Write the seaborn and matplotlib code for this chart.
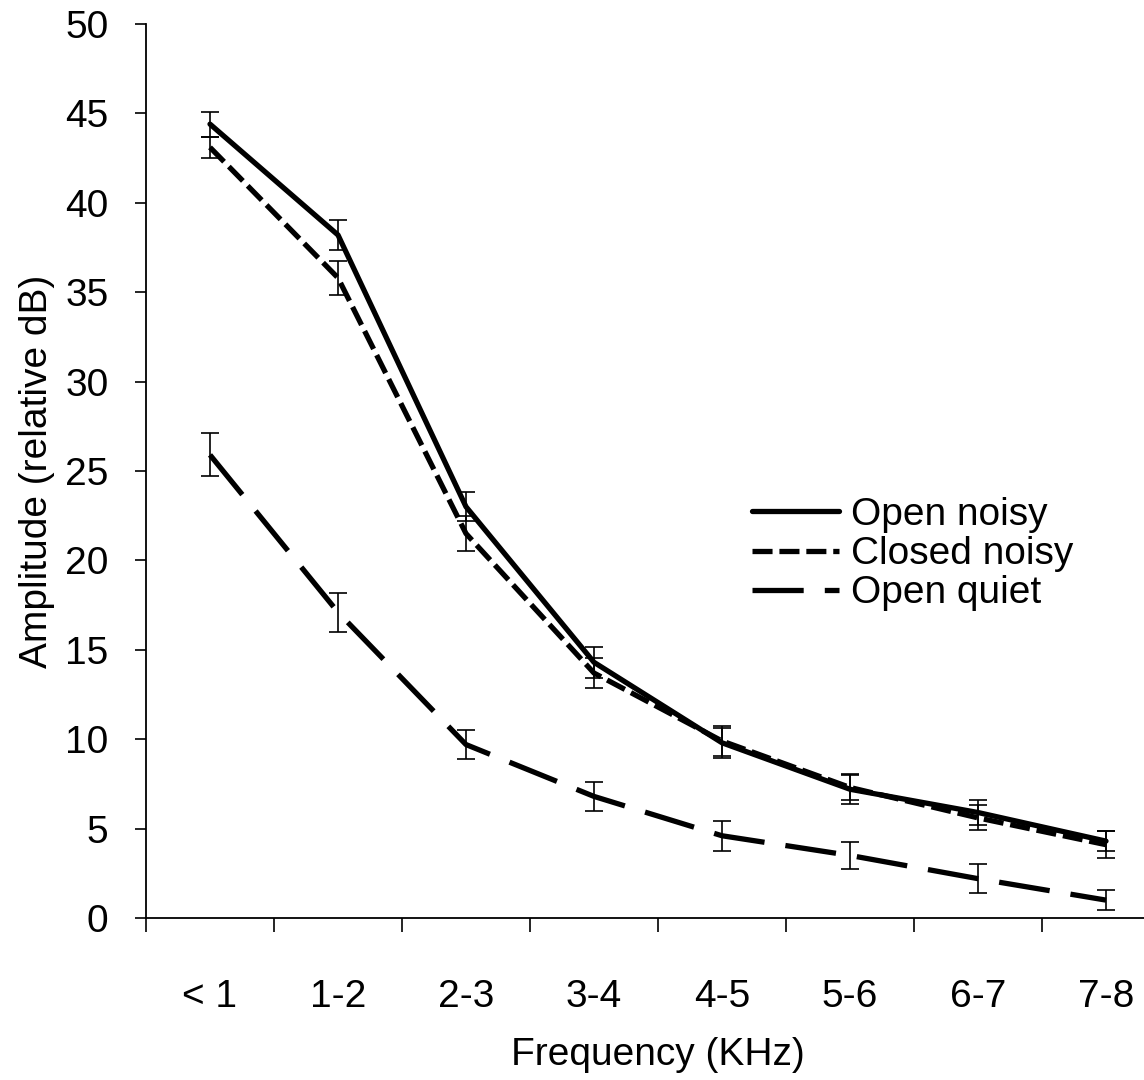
import numpy as np
import pandas as pd
import matplotlib
matplotlib.use("Agg")
import matplotlib.pyplot as plt
import seaborn as sns

categories = ["< 1", "1-2", "2-3", "3-4", "4-5", "5-6", "6-7", "7-8"]
open_noisy = [44.4, 38.2, 23.0, 14.3, 9.8, 7.2, 5.9, 4.3]
open_noisy_err = [0.7, 0.85, 0.8, 0.85, 0.85, 0.85, 0.7, 0.55]
closed_noisy = [43.1, 35.8, 21.5, 13.7, 9.9, 7.3, 5.6, 4.1]
closed_noisy_err = [0.6, 0.95, 1.0, 0.85, 0.85, 0.7, 0.7, 0.75]
open_quiet = [25.9, 17.1, 9.7, 6.8, 4.6, 3.5, 2.2, 1.0]
open_quiet_err = [1.2, 1.1, 0.8, 0.8, 0.85, 0.75, 0.8, 0.55]
series_names = ["Open noisy", "Closed noisy", "Open quiet"]

sns.set_theme(style="white")
plt.rcParams["font.family"] = ["Liberation Sans", "DejaVu Sans"]
plt.rcParams["text.color"] = "black"
plt.rcParams["axes.labelcolor"] = "black"

df = pd.DataFrame({
    "freq": categories * 3,
    "amp": open_noisy + closed_noisy + open_quiet,
    "cond": [n for n in series_names for _ in categories],
})

fig = plt.figure(figsize=(11.44, 10.8), dpi=100)
ax = fig.add_axes([146 / 1144, 1 - 918 / 1080, 1024 / 1144, (918 - 24) / 1080])

LW = 3.8
dash_map = {"Open noisy": "", "Closed noisy": (3.8, 1.3), "Open quiet": (9.7, 4.0)}
sns.lineplot(data=df, x="freq", y="amp", style="cond", style_order=series_names,
             dashes=dash_map, color="black", lw=LW, sort=False, ax=ax,
             markers=False)

for vals, errs in [(open_noisy, open_noisy_err), (closed_noisy, closed_noisy_err),
                   (open_quiet, open_quiet_err)]:
    ax.errorbar(categories, vals, yerr=errs, fmt="none", ecolor="black",
                elinewidth=1.2, capsize=6.5, capthick=1.2, zorder=5)

ax.set_xlim(-0.5, 7.5)
ax.set_ylim(0, 50)
ax.set_yticks(np.arange(0, 51, 5))
ax.set_xticks(np.arange(8))
ax.set_xticklabels(categories)
ax.set_xticks(np.arange(-0.5, 8, 1), minor=True)
ax.tick_params(axis="x", which="major", length=0, pad=44, labelsize=28, colors="black")
ax.tick_params(axis="x", which="minor", length=10, width=1.2, color="black", bottom=True)
ax.tick_params(axis="y", which="major", length=8, width=1.2, pad=19, labelsize=28,
               colors="black", left=True)

for s in ["top", "right"]:
    ax.spines[s].set_visible(False)
for s in ["left", "bottom"]:
    ax.spines[s].set_color("black")
    ax.spines[s].set_linewidth(1.3)

ax.set_xlabel("Frequency (KHz)", fontsize=28, color="black")
ax.set_ylabel("Amplitude (relative dB)", fontsize=28, color="black")
ax.xaxis.set_label_coords(0.5, -0.133)
ax.yaxis.set_label_coords(-0.089, 0.5)

handles, labels = ax.get_legend_handles_labels()
leg = ax.legend(handles, labels, loc="upper left",
                bbox_to_anchor=(752 / 1144, 1 - 497 / 1080),
                bbox_transform=fig.transFigure, frameon=False, fontsize=28,
                handlelength=2.25, handletextpad=0.3, labelspacing=0.08,
                borderpad=0, borderaxespad=0)
for line in leg.get_lines():
    line.set_linewidth(LW)
for t in leg.get_texts():
    t.set_color("black")

fig.savefig("out.png", dpi=100)
